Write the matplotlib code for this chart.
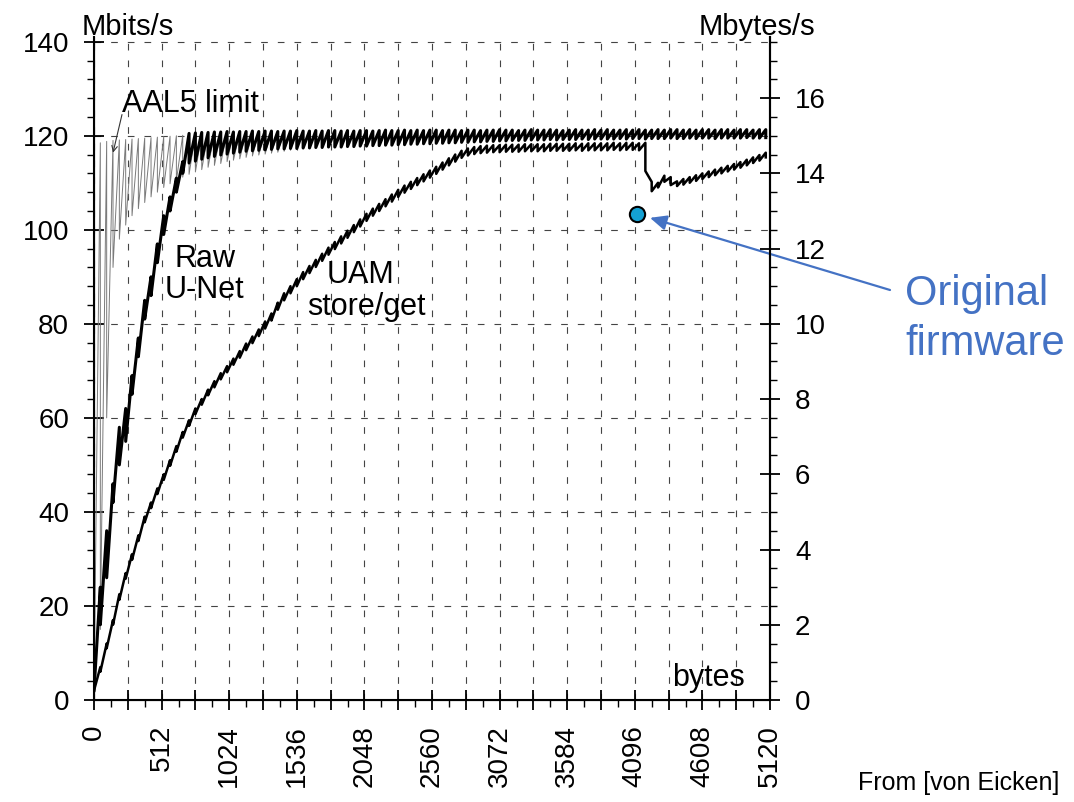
import numpy as np
import matplotlib.pyplot as plt
from matplotlib.ticker import MultipleLocator

plt.rcParams['font.family'] = ['Liberation Sans', 'DejaVu Sans']

# message size in bytes, one reading per 48-byte cell payload
sizes = np.arange(0, 5089, 48)

# each curve is a sawtooth: value just before a new cell (hi) and just after (lo)
aal5_hi = [0.0, 118.5, 118.8, 119.0, 119.1, 119.2, 119.3, 119.4, 119.5, 119.6,
           119.7, 119.8, 119.9, 120.0, 120.1, 120.2, 120.3, 120.4, 120.5, 120.5,
           120.6, 120.7, 120.6, 120.7, 120.8, 120.7, 120.8, 120.8, 120.9, 120.8,
           120.9, 120.8, 120.9, 121.0, 120.9, 121.0, 120.9, 121.0, 121.0, 121.1,
           121.0, 121.1, 121.0, 121.1, 121.1, 121.0, 121.1, 121.2, 121.1, 121.1,
           121.2, 121.1, 121.2, 121.1, 121.2, 121.2, 121.1, 121.2, 121.2, 121.1,
           121.2, 121.2, 121.1, 121.2, 121.2, 121.3, 121.2, 121.2, 121.1, 121.2,
           121.3, 121.2, 121.2, 121.3, 121.2, 121.1, 121.2, 121.3, 121.2, 121.2,
           121.3, 121.2, 121.3, 121.2, 121.2, 121.3, 121.2, 121.3, 121.2, 121.2,
           121.3, 121.2, 121.3, 121.3, 121.2, 121.3, 121.2, 121.3, 121.3, 121.2,
           121.3, 121.3, 121.2, 121.3, 121.3, 121.2, 121.3]
aal5_lo = [0.0, 15.0, 60.0, 92.0, 98.0, 101.0, 103.0, 104.5, 105.8, 107.0,
           108.0, 109.0, 109.8, 110.5, 111.2, 111.8, 112.3, 112.8, 113.3, 113.7,
           114.1, 114.5, 114.8, 115.1, 115.4, 115.7, 115.9, 116.1, 116.3, 116.5,
           116.7, 116.9, 117.1, 117.2, 117.3, 117.4, 117.5, 117.6, 117.6, 117.7,
           117.7, 117.8, 117.8, 117.9, 117.9, 118.0, 118.0, 118.1, 118.1, 118.2,
           118.2, 118.3, 118.3, 118.4, 118.4, 118.5, 118.5, 118.6, 118.6, 118.7,
           118.7, 118.8, 118.8, 118.9, 118.9, 119.0, 119.0, 119.0, 119.1, 119.1,
           119.1, 119.2, 119.1, 119.2, 119.2, 119.2, 119.3, 119.2, 119.3, 119.3,
           119.3, 119.3, 119.4, 119.3, 119.4, 119.4, 119.3, 119.4, 119.4, 119.4,
           119.5, 119.4, 119.4, 119.5, 119.4, 119.5, 119.5, 119.4, 119.5, 119.5,
           119.5, 119.5, 119.6, 119.5, 119.5, 119.6, 119.5]

raw_hi = [2.0, 24.0, 36.0, 46.0, 58.0, 62.0, 69.0, 77.0, 85.0, 90.0,
          97.0, 103.0, 107.0, 111.0, 114.5, 120.5, 120.6, 120.7, 120.7, 120.8,
          120.8, 120.9, 120.8, 120.9, 120.9, 121.0, 120.9, 121.0, 121.0, 120.9,
          121.0, 121.0, 121.1, 121.0, 121.0, 121.1, 121.0, 121.1, 121.1, 121.0,
          121.1, 121.0, 121.1, 121.1, 121.0, 121.1, 121.2, 121.1, 121.1, 121.2,
          121.1, 121.2, 121.1, 121.2, 121.2, 121.1, 121.2, 121.2, 121.1, 121.2,
          121.2, 121.1, 121.2, 121.2, 121.3, 121.2, 121.2, 121.1, 121.2, 121.3,
          121.2, 121.2, 121.3, 121.2, 121.1, 121.2, 121.3, 121.2, 121.2, 121.3,
          121.2, 121.3, 121.2, 121.2, 121.3, 121.2, 121.3, 121.2, 121.2, 121.3,
          121.2, 121.3, 121.3, 121.2, 121.3, 121.2, 121.3, 121.3, 121.2, 121.3,
          121.3, 121.2, 121.3, 121.3, 121.2, 121.3, 121.3]
raw_lo = [2.0, 16.0, 26.0, 42.0, 50.0, 55.0, 65.0, 73.0, 81.0, 86.0,
          93.0, 99.0, 104.0, 108.0, 112.0, 114.2, 114.6, 115.0, 115.3, 115.6,
          115.9, 116.1, 116.3, 116.5, 116.7, 116.8, 116.9, 117.0, 117.1, 117.2,
          117.2, 117.3, 117.3, 117.4, 117.4, 117.5, 117.5, 117.6, 117.6, 117.6,
          117.7, 117.7, 117.8, 117.8, 117.9, 117.9, 118.0, 118.0, 118.1, 118.1,
          118.2, 118.2, 118.3, 118.3, 118.4, 118.4, 118.5, 118.5, 118.6, 118.6,
          118.7, 118.7, 118.8, 118.8, 118.9, 118.9, 119.0, 119.0, 119.0, 119.1,
          119.1, 119.1, 119.2, 119.1, 119.2, 119.2, 119.2, 119.3, 119.2, 119.3,
          119.3, 119.3, 119.3, 119.4, 119.3, 119.4, 119.4, 119.3, 119.4, 119.4,
          119.4, 119.5, 119.4, 119.4, 119.5, 119.4, 119.5, 119.5, 119.4, 119.5,
          119.5, 119.5, 119.5, 119.6, 119.5, 119.5, 119.6]

uam_hi = [2.0, 7.0, 12.0, 17.0, 22.5, 27.0, 31.0, 35.0, 39.0, 42.0,
          45.0, 48.0, 51.0, 54.0, 57.0, 59.5, 62.0, 64.0, 66.0, 67.8,
          69.5, 71.0, 72.6, 74.2, 75.8, 77.3, 78.8, 80.5, 82.2, 84.5,
          86.5, 88.0, 89.5, 91.0, 92.3, 93.6, 94.9, 96.2, 97.4, 98.6,
          99.8, 101.0, 102.2, 103.4, 104.5, 105.5, 106.5, 107.5, 108.5, 109.4,
          110.2, 111.0, 111.8, 112.6, 113.4, 114.3, 115.2, 116.0, 116.8, 117.3,
          117.6, 117.8, 117.9, 118.0, 118.0, 118.1, 118.1, 118.1, 118.2, 118.2,
          118.2, 118.2, 118.3, 118.3, 118.3, 118.3, 118.4, 118.3, 118.4, 118.4,
          118.4, 118.4, 118.5, 118.4, 118.5, 118.5, 118.4, 118.5, 110.2, 110.0,
          111.5, 111.2, 110.3, 110.8, 111.2, 111.6, 112.0, 112.4, 112.8, 113.2,
          113.6, 114.0, 114.4, 114.9, 115.4, 115.9, 116.4]
uam_lo = [2.0, 6.0, 11.0, 16.0, 21.3, 25.8, 29.8, 33.8, 37.8, 40.8,
          43.8, 46.8, 49.8, 52.8, 55.8, 58.3, 60.8, 62.8, 64.8, 66.5,
          68.2, 69.7, 71.3, 72.8, 74.4, 75.9, 77.4, 79.0, 80.7, 83.0,
          85.0, 86.5, 88.0, 89.5, 90.8, 92.1, 93.4, 94.7, 95.9, 97.1,
          98.3, 99.5, 100.7, 101.9, 103.0, 104.0, 105.0, 106.0, 107.0, 107.9,
          108.7, 109.5, 110.3, 111.1, 111.9, 112.8, 113.7, 114.5, 115.3, 115.8,
          116.1, 116.3, 116.4, 116.5, 116.5, 116.6, 116.6, 116.6, 116.7, 116.7,
          116.7, 116.7, 116.8, 116.8, 116.8, 116.8, 116.9, 116.8, 116.9, 116.9,
          116.9, 116.9, 117.0, 116.9, 117.0, 117.0, 116.9, 112.5, 108.2, 109.0,
          110.2, 109.5, 109.3, 109.6, 110.0, 110.4, 110.8, 111.2, 111.6, 112.0,
          112.4, 112.8, 113.2, 113.7, 114.2, 114.7, 115.4]

# "original firmware" measurement
fw_size = [4110]
fw_rate = [103.4]

xticks = np.arange(0, 5121, 256)
left_ticks = np.arange(0, 141, 20)
right_ticks = np.arange(0, 17, 2)


def saw(hi, lo):
    return np.repeat(sizes, 2), np.column_stack([hi, lo]).ravel()


fig = plt.figure(figsize=(10.74, 8.02), dpi=100)
ax = fig.add_axes([94 / 1074, 102 / 802, 676 / 1074, 663 / 802])

x, y = saw(aal5_hi, aal5_lo)
ax.plot(x, y, color='#7a7a7a', lw=0.7, zorder=3)
x, y = saw(uam_hi, uam_lo)
ax.plot(x, y, color='black', lw=1.8, zorder=4)
x, y = saw(raw_hi, raw_lo)
ax.plot(x, y, color='black', lw=2.2, zorder=5)

ax.plot(fw_size, fw_rate, 'o', ms=11, mfc='#14a0d2', mec='black', mew=1.5, zorder=6)

ax.set_xlim(0, 5120)
ax.set_ylim(0, 141)
ax.set_xticks(xticks)
ax.set_xticklabels([str(v) if v % 512 == 0 else '' for v in xticks], rotation=90)
ax.set_yticks(left_ticks)
ax.xaxis.set_minor_locator(MultipleLocator(128))
ax.yaxis.set_minor_locator(MultipleLocator(4))
ax.tick_params(which='major', direction='inout', length=14, width=1.3, labelsize=20, pad=11)
ax.tick_params(which='minor', direction='out', length=5, width=1.0)
ax.grid(True, which='major', color='#444444', lw=0.8, linestyle=(0, (6, 9)))
ax.spines['top'].set_visible(False)
for s in ['left', 'bottom', 'right']:
    ax.spines[s].set_linewidth(1.5)

ax2 = ax.twinx()
ax2.set_ylim(0, 141 / 8)
ax2.set_yticks(right_ticks)
ax2.yaxis.set_minor_locator(MultipleLocator(0.5))
ax2.tick_params(which='major', direction='inout', length=14, width=1.3, labelsize=20, pad=11)
ax2.tick_params(which='minor', direction='out', length=5, width=1.0)
ax2.spines['top'].set_visible(False)
ax2.spines['right'].set_linewidth(1.5)

# labels inside the plot
ax.text(212, 125, 'AAL5 limit', fontsize=22, va='baseline')
ax.annotate('', xy=(144, 116.4), xytext=(212, 124.5),
            arrowprops=dict(arrowstyle='->', lw=0.8, color='#333333', shrinkA=0, shrinkB=0))
ax.text(840, 92, 'Raw', fontsize=22, ha='center', va='baseline')
ax.text(840, 85.5, 'U-Net', fontsize=22, ha='center', va='baseline')
ax.text(2020, 88.7, 'UAM', fontsize=22, ha='center', va='baseline')
ax.text(2060, 81.9, 'store/get', fontsize=22, ha='center', va='baseline')
ax.text(4378, 3, 'bytes', fontsize=22, va='baseline')

fig.text(82 / 1074, 1 - 35 / 802, 'Mbits/s', fontsize=21, va='baseline')
fig.text(815 / 1074, 1 - 35 / 802, 'Mbytes/s', fontsize=21, ha='right', va='baseline')

blue = '#4472c4'
ax.annotate('', xy=(fw_size[0], fw_rate[0]), xytext=(890, 802 - 290),
            textcoords='figure pixels',
            arrowprops=dict(arrowstyle='-|>,head_length=1.0,head_width=0.45', lw=1.6,
                            color=blue, shrinkA=0, shrinkB=10))
fig.text(905 / 1074, 1 - 305 / 802, 'Original', fontsize=30, color=blue, va='baseline')
fig.text(905 / 1074, 1 - 355 / 802, 'firmware', fontsize=30, color=blue, va='baseline')

fig.text(858 / 1074, 1 - 790 / 802, 'From [von Eicken]', fontsize=18, va='baseline')

fig.savefig('out.png', dpi=100)
